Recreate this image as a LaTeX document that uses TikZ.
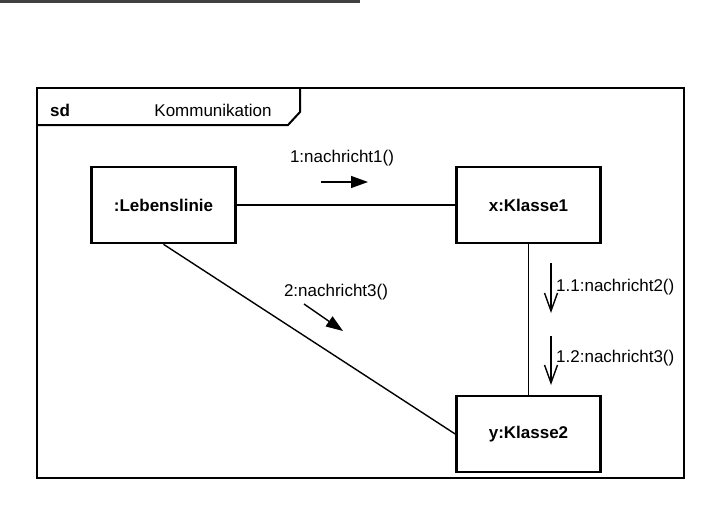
\documentclass[tikz,border=0pt]{standalone}
\usepackage{fontspec}
\setmainfont{Liberation Sans}
\usetikzlibrary{arrows.meta}
\begin{document}
\begin{tikzpicture}[x=1pt,y=-1pt,
  obj/.style={draw,line width=2.6pt,minimum width=144pt,minimum height=76pt,inner sep=0pt,
    font=\fontsize{17}{20}\selectfont\bfseries},
  conn/.style={line width=1.4pt},
  lbl/.style={inner sep=0pt,font=\fontsize{17}{20}\selectfont},
  msgfill/.style={line width=1.4pt,-{Triangle[length=17pt,width=12pt]}},
  msgopen/.style={line width=1.4pt,-{Straight Barb[length=18pt,width=13pt,line width=1.4pt]}}]
\useasboundingbox (0,0) rectangle (715,507);
\fill[black!75] (0,0) rectangle (360,2.5);
% frame
\draw[line width=2.4pt] (37,88) rectangle (684,478);
\draw[line width=2pt] (37,125) -- (288,125) -- (300,112) -- (300,88);
\node[lbl,font=\fontsize{17}{20}\selectfont\bfseries] (sd) at (60,110) {sd};
\node[lbl] (title) at (213,110) {Kommunikation};
% objects
\node[obj] (L) at (163.5,205) {:Lebenslinie};
\node[obj] (K1) at (528.5,205) {x:Klasse1};
\node[obj] (K2) at (528.5,434) {y:Klasse2};
\draw[conn] (L) -- (K1);
\draw[conn] (K1) -- (K2);
\draw[conn] (L.south) -- (K2.west);
% messages
\node[lbl] (m1) at (342,158) {1:nachricht1()};
\coordinate (m1a) at (321,182);
\coordinate (m1b) at (368,182);
\draw[msgfill] (m1a) -- (m1b);
\node[lbl] (m2) at (336,292) {2:nachricht3()};
\coordinate (m2a) at (304,304);
\coordinate (m2b) at (343,331);
\draw[msgfill] (m2a) -- (m2b);
\coordinate (m3a) at (551,263);
\coordinate (m3b) at (551,313);
\draw[msgopen] (m3a) -- (m3b);
\node[lbl,anchor=west] (m3) at (556,287) {1.1:nachricht2()};
\coordinate (m4a) at (551,336);
\coordinate (m4b) at (551,385);
\draw[msgopen] (m4a) -- (m4b);
\node[lbl,anchor=west] (m4) at (556,358) {1.2:nachricht3()};
\end{tikzpicture}
\end{document}
